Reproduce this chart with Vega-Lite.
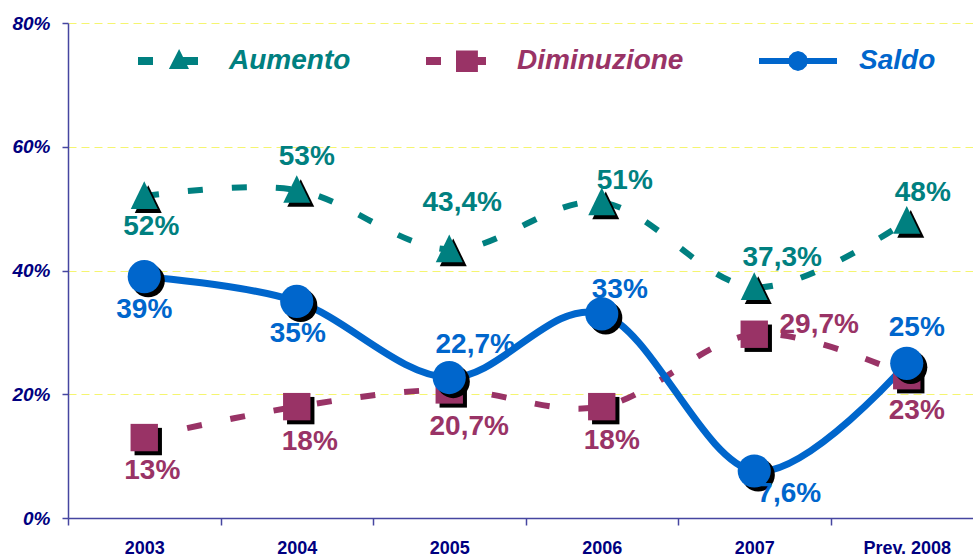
{
  "$schema": "https://vega.github.io/schema/vega-lite/v6.json",
  "width": 905,
  "height": 495,
  "autosize": {"type": "none"},
  "padding": {"left": 68, "top": 23, "right": 0, "bottom": 38},
  "background": "white",
  "config": {"view": {"stroke": null}, "font": "Liberation Sans"},
  "data": {
    "values": [
      {"year": "2003", "series": "Aumento", "value": 52, "label": "52%"},
      {"year": "2004", "series": "Aumento", "value": 53, "label": "53%"},
      {"year": "2005", "series": "Aumento", "value": 43.4, "label": "43,4%"},
      {"year": "2006", "series": "Aumento", "value": 51, "label": "51%"},
      {"year": "2007", "series": "Aumento", "value": 37.3, "label": "37,3%"},
      {"year": "Prev. 2008", "series": "Aumento", "value": 48, "label": "48%"},
      {"year": "2003", "series": "Diminuzione", "value": 13, "label": "13%"},
      {"year": "2004", "series": "Diminuzione", "value": 18, "label": "18%"},
      {"year": "2005", "series": "Diminuzione", "value": 20.7, "label": "20,7%"},
      {"year": "2006", "series": "Diminuzione", "value": 18, "label": "18%"},
      {"year": "2007", "series": "Diminuzione", "value": 29.7, "label": "29,7%"},
      {"year": "Prev. 2008", "series": "Diminuzione", "value": 23, "label": "23%"},
      {"year": "2003", "series": "Saldo", "value": 39, "label": "39%"},
      {"year": "2004", "series": "Saldo", "value": 35, "label": "35%"},
      {"year": "2005", "series": "Saldo", "value": 22.7, "label": "22,7%"},
      {"year": "2006", "series": "Saldo", "value": 33, "label": "33%"},
      {"year": "2007", "series": "Saldo", "value": 7.6, "label": "7,6%"},
      {"year": "Prev. 2008", "series": "Saldo", "value": 25, "label": "25%"}
    ]
  },
  "encoding": {
    "x": {
      "field": "year", "type": "nominal", "sort": null,
      "scale": {"type": "band", "range": [0, 915], "paddingInner": 0, "paddingOuter": 0},
      "axis": {
        "title": null, "labelAngle": 0, "tickBand": "extent", "grid": false,
        "domainColor": "#4646a0", "domainWidth": 1.5, "tickColor": "#4646a0", "tickWidth": 1.5, "tickSize": 7,
        "labelFont": "Liberation Sans", "labelFontSize": 18, "labelFontWeight": "bold", "labelColor": "#000080",
        "labelPadding": 14
      }
    },
    "y": {
      "field": "value", "type": "quantitative",
      "scale": {"domain": [0, 80], "nice": false},
      "axis": {
        "title": null, "values": [0, 20, 40, 60, 80], "labelExpr": "datum.value + '%'",
        "grid": true, "gridColor": "#f5f570", "gridDash": [8, 5], "gridWidth": 1,
        "domainColor": "#4646a0", "domainWidth": 1.5, "tickColor": "#4646a0", "tickWidth": 1.5, "tickSize": 6,
        "labelFont": "Liberation Sans", "labelFontSize": 19, "labelFontWeight": "bold", "labelFontStyle": "italic",
        "labelColor": "#000080", "labelPadding": 12
      }
    }
  },
  "layer": [
    {
      "transform": [{"filter": "datum.series !== 'Saldo'"}],
      "mark": {"type": "line", "interpolate": "cardinal", "strokeWidth": 6, "strokeDash": [15, 29], "strokeCap": "butt"},
      "encoding": {
        "color": {"field": "series", "type": "nominal",
          "scale": {"domain": ["Aumento", "Diminuzione", "Saldo"], "range": ["#008080", "#993366", "#0066CC"]}}
      }
    },
    {
      "transform": [{"filter": "datum.series === 'Saldo'"}],
      "mark": {"type": "line", "interpolate": "cardinal", "strokeWidth": 7, "strokeCap": "round"},
      "encoding": {"color": {"field": "series", "type": "nominal"}}
    },
    {
      "transform": [{"filter": "datum.series === 'Aumento'"}],
      "mark": {"type": "point", "filled": true, "color": "black", "opacity": 1, "xOffset": 4, "yOffset": 4, "shape": "M0,-1.05L0.95,0.9H-0.95Z", "size": 807},
      "encoding": {}
    },
    {
      "transform": [{"filter": "datum.series === 'Diminuzione'"}],
      "mark": {"type": "point", "filled": true, "color": "black", "opacity": 1, "xOffset": 4, "yOffset": 4, "shape": "square", "size": 750},
      "encoding": {}
    },
    {
      "transform": [{"filter": "datum.series === 'Aumento'"}],
      "mark": {"type": "point", "filled": true, "opacity": 1, "shape": "M0,-1.05L0.95,0.9H-0.95Z", "size": 807},
      "encoding": {
        "color": {
          "field": "series", "type": "nominal",
          "legend": {
            "orient": "none", "legendX": 70, "legendY": 8, "direction": "horizontal", "title": null,
            "symbolSize": 3600, "symbolStrokeWidth": 0, "symbolOffset": 0, "symbolOpacity": 1,
            "symbolType": {"expr": "datum.value === 'Aumento' ? 'M-1,-0.13H-0.5V0.13H-1Z M0.5,-0.13H1V0.13H0.5Z M0.37,-0.4L0.7,0.27H0.03Z' : datum.value === 'Diminuzione' ? 'M-1,-0.13H-0.5V0.13H-1Z M0.5,-0.13H1V0.13H0.5Z M0,-0.35H0.73V0.37H0Z' : 'M-1.3,-0.1H1.3V0.1H-1.3Z M0.33,0L0.286,0.165L0.165,0.286L0,0.33L-0.165,0.286L-0.286,0.165L-0.33,0L-0.286,-0.165L-0.165,-0.286L0,-0.33L0.165,-0.286L0.286,-0.165Z'"},
            "labelColor": {"expr": "datum.value === 'Aumento' ? '#008080' : datum.value === 'Diminuzione' ? '#993366' : '#0066CC'"},
            "labelFont": "Liberation Sans", "labelFontSize": 28, "labelFontWeight": "bold", "labelFontStyle": "italic",
            "labelOffset": 31, "columnPadding": 75, "labelLimit": 400
          }
        }
      }
    },
    {
      "transform": [{"filter": "datum.series === 'Diminuzione'"}],
      "mark": {"type": "point", "filled": true, "opacity": 1, "shape": "square", "size": 750},
      "encoding": {"color": {"field": "series", "type": "nominal"}}
    },
    {
      "transform": [{"filter": "datum.series === 'Saldo'"}],
      "mark": {"type": "point", "filled": true, "color": "black", "opacity": 1, "xOffset": 4, "yOffset": 4, "shape": "circle", "size": 1100},
      "encoding": {}
    },
    {
      "transform": [{"filter": "datum.series === 'Saldo'"}],
      "mark": {"type": "point", "filled": true, "opacity": 1, "shape": "circle", "size": 1100},
      "encoding": {"color": {"field": "series", "type": "nominal"}}
    },
    {
      "mark": {
        "type": "text", "font": "Liberation Sans", "fontSize": 28, "fontWeight": "bold", "align": "center", "baseline": "middle",
        "dx": {"expr": "{'Aumento2003': 7, 'Aumento2004': 10, 'Aumento2005': 13, 'Aumento2006': 23, 'Aumento2007': 28, 'AumentoPrev. 2008': 16, 'Diminuzione2003': 8, 'Diminuzione2004': 13, 'Diminuzione2005': 20, 'Diminuzione2006': 10, 'Diminuzione2007': 65, 'DiminuzionePrev. 2008': 10, 'Saldo2003': 0, 'Saldo2004': 1, 'Saldo2005': 26, 'Saldo2006': 18, 'Saldo2007': 35, 'SaldoPrev. 2008': 10}[datum.series + datum.year]"},
        "dy": {"expr": "{'Aumento2003': 31, 'Aumento2004': -33, 'Aumento2005': -46, 'Aumento2006': -21, 'Aumento2007': -29, 'AumentoPrev. 2008': -28, 'Diminuzione2003': 33, 'Diminuzione2004': 35, 'Diminuzione2005': 37, 'Diminuzione2006': 34, 'Diminuzione2007': -9, 'DiminuzionePrev. 2008': 35, 'Saldo2003': 33, 'Saldo2004': 33, 'Saldo2005': -33, 'Saldo2006': -24, 'Saldo2007': 23, 'SaldoPrev. 2008': -35}[datum.series + datum.year]"}
      },
      "encoding": {
        "text": {"field": "label"},
        "color": {"field": "series", "type": "nominal"}
      }
    }
  ]
}
